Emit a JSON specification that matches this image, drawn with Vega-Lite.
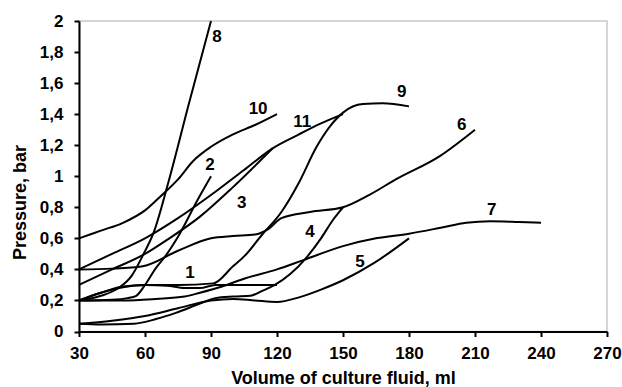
{
  "$schema": "https://vega.github.io/schema/vega-lite/v6.json",
  "width": 528,
  "height": 310.5,
  "autosize": {"type": "none"},
  "padding": {"left": 79, "top": 21, "right": 15, "bottom": 56},
  "config": {
    "view": {"stroke": "#c8c8c8", "strokeWidth": 1.5},
    "font": "Liberation Sans",
    "axis": {"labelOverlap": false, "labelBound": false},
    "locale": {
      "number": {"decimal": ",", "thousands": " ", "grouping": [3], "currency": ["", ""]}
    }
  },
  "datasets": {
    "curves": [
      {"curve": "1", "volume": 30, "pressure": 0.2},
      {"curve": "1", "volume": 40, "pressure": 0.25},
      {"curve": "1", "volume": 50, "pressure": 0.285},
      {"curve": "1", "volume": 60, "pressure": 0.3},
      {"curve": "1", "volume": 70, "pressure": 0.295},
      {"curve": "1", "volume": 78, "pressure": 0.28},
      {"curve": "1", "volume": 85, "pressure": 0.28},
      {"curve": "1", "volume": 92, "pressure": 0.3},
      {"curve": "1", "volume": 105, "pressure": 0.3},
      {"curve": "1", "volume": 120, "pressure": 0.3},

      {"curve": "2", "volume": 30, "pressure": 0.2},
      {"curve": "2", "volume": 45, "pressure": 0.205},
      {"curve": "2", "volume": 52, "pressure": 0.215},
      {"curve": "2", "volume": 56, "pressure": 0.23},
      {"curve": "2", "volume": 60, "pressure": 0.3},
      {"curve": "2", "volume": 65, "pressure": 0.41},
      {"curve": "2", "volume": 69.5, "pressure": 0.49},
      {"curve": "2", "volume": 75, "pressure": 0.61},
      {"curve": "2", "volume": 84, "pressure": 0.85},
      {"curve": "2", "volume": 90, "pressure": 1.0},

      {"curve": "3", "volume": 30, "pressure": 0.3},
      {"curve": "3", "volume": 45, "pressure": 0.4},
      {"curve": "3", "volume": 60, "pressure": 0.5},
      {"curve": "3", "volume": 70, "pressure": 0.59},
      {"curve": "3", "volume": 85, "pressure": 0.74},
      {"curve": "3", "volume": 100, "pressure": 0.93},
      {"curve": "3", "volume": 118, "pressure": 1.18},

      {"curve": "4", "volume": 30, "pressure": 0.05},
      {"curve": "4", "volume": 40, "pressure": 0.045},
      {"curve": "4", "volume": 55, "pressure": 0.05},
      {"curve": "4", "volume": 65, "pressure": 0.08},
      {"curve": "4", "volume": 74, "pressure": 0.12},
      {"curve": "4", "volume": 85, "pressure": 0.18},
      {"curve": "4", "volume": 92, "pressure": 0.215},
      {"curve": "4", "volume": 100, "pressure": 0.225},
      {"curve": "4", "volume": 108, "pressure": 0.23},
      {"curve": "4", "volume": 113, "pressure": 0.26},
      {"curve": "4", "volume": 119, "pressure": 0.3},
      {"curve": "4", "volume": 126, "pressure": 0.37},
      {"curve": "4", "volume": 133, "pressure": 0.47},
      {"curve": "4", "volume": 140, "pressure": 0.6},
      {"curve": "4", "volume": 145.5, "pressure": 0.72},
      {"curve": "4", "volume": 150, "pressure": 0.8},

      {"curve": "5", "volume": 30, "pressure": 0.05},
      {"curve": "5", "volume": 45, "pressure": 0.07},
      {"curve": "5", "volume": 60, "pressure": 0.1},
      {"curve": "5", "volume": 75, "pressure": 0.15},
      {"curve": "5", "volume": 90, "pressure": 0.2},
      {"curve": "5", "volume": 100, "pressure": 0.21},
      {"curve": "5", "volume": 110, "pressure": 0.2},
      {"curve": "5", "volume": 120, "pressure": 0.19},
      {"curve": "5", "volume": 130, "pressure": 0.22},
      {"curve": "5", "volume": 140, "pressure": 0.27},
      {"curve": "5", "volume": 150, "pressure": 0.33},
      {"curve": "5", "volume": 164, "pressure": 0.44},
      {"curve": "5", "volume": 180, "pressure": 0.6},

      {"curve": "6", "volume": 30, "pressure": 0.4},
      {"curve": "6", "volume": 45, "pressure": 0.405},
      {"curve": "6", "volume": 59, "pressure": 0.42},
      {"curve": "6", "volume": 75, "pressure": 0.52},
      {"curve": "6", "volume": 90, "pressure": 0.6},
      {"curve": "6", "volume": 100, "pressure": 0.615},
      {"curve": "6", "volume": 110, "pressure": 0.625},
      {"curve": "6", "volume": 116, "pressure": 0.66},
      {"curve": "6", "volume": 122, "pressure": 0.73},
      {"curve": "6", "volume": 135, "pressure": 0.77},
      {"curve": "6", "volume": 150, "pressure": 0.8},
      {"curve": "6", "volume": 162, "pressure": 0.88},
      {"curve": "6", "volume": 174, "pressure": 0.98},
      {"curve": "6", "volume": 194, "pressure": 1.13},
      {"curve": "6", "volume": 210, "pressure": 1.3},

      {"curve": "7", "volume": 30, "pressure": 0.2},
      {"curve": "7", "volume": 50, "pressure": 0.2},
      {"curve": "7", "volume": 65, "pressure": 0.21},
      {"curve": "7", "volume": 78, "pressure": 0.225},
      {"curve": "7", "volume": 85, "pressure": 0.25},
      {"curve": "7", "volume": 95, "pressure": 0.29},
      {"curve": "7", "volume": 105, "pressure": 0.34},
      {"curve": "7", "volume": 120, "pressure": 0.4},
      {"curve": "7", "volume": 132, "pressure": 0.46},
      {"curve": "7", "volume": 150, "pressure": 0.55},
      {"curve": "7", "volume": 165, "pressure": 0.6},
      {"curve": "7", "volume": 180, "pressure": 0.63},
      {"curve": "7", "volume": 195, "pressure": 0.67},
      {"curve": "7", "volume": 206, "pressure": 0.7},
      {"curve": "7", "volume": 217, "pressure": 0.71},
      {"curve": "7", "volume": 230, "pressure": 0.705},
      {"curve": "7", "volume": 240, "pressure": 0.7},

      {"curve": "8", "volume": 30, "pressure": 0.2},
      {"curve": "8", "volume": 40, "pressure": 0.23},
      {"curve": "8", "volume": 48, "pressure": 0.28},
      {"curve": "8", "volume": 54, "pressure": 0.36},
      {"curve": "8", "volume": 59, "pressure": 0.49},
      {"curve": "8", "volume": 64, "pressure": 0.64},
      {"curve": "8", "volume": 70.6, "pressure": 0.96},
      {"curve": "8", "volume": 80, "pressure": 1.47},
      {"curve": "8", "volume": 90, "pressure": 2.0},

      {"curve": "9", "volume": 30, "pressure": 0.2},
      {"curve": "9", "volume": 40, "pressure": 0.25},
      {"curve": "9", "volume": 50, "pressure": 0.29},
      {"curve": "9", "volume": 60, "pressure": 0.3},
      {"curve": "9", "volume": 75, "pressure": 0.3},
      {"curve": "9", "volume": 91, "pressure": 0.31},
      {"curve": "9", "volume": 100, "pressure": 0.42},
      {"curve": "9", "volume": 105.5, "pressure": 0.49},
      {"curve": "9", "volume": 113, "pressure": 0.62},
      {"curve": "9", "volume": 122, "pressure": 0.77},
      {"curve": "9", "volume": 130, "pressure": 0.96},
      {"curve": "9", "volume": 138, "pressure": 1.19},
      {"curve": "9", "volume": 144, "pressure": 1.32},
      {"curve": "9", "volume": 150, "pressure": 1.41},
      {"curve": "9", "volume": 159, "pressure": 1.465},
      {"curve": "9", "volume": 168, "pressure": 1.47},
      {"curve": "9", "volume": 180, "pressure": 1.45},

      {"curve": "10", "volume": 30, "pressure": 0.6},
      {"curve": "10", "volume": 40, "pressure": 0.65},
      {"curve": "10", "volume": 50, "pressure": 0.7},
      {"curve": "10", "volume": 60, "pressure": 0.78},
      {"curve": "10", "volume": 67, "pressure": 0.87},
      {"curve": "10", "volume": 75, "pressure": 0.98},
      {"curve": "10", "volume": 82, "pressure": 1.1},
      {"curve": "10", "volume": 90, "pressure": 1.19},
      {"curve": "10", "volume": 100, "pressure": 1.27},
      {"curve": "10", "volume": 110, "pressure": 1.33},
      {"curve": "10", "volume": 120, "pressure": 1.4},

      {"curve": "11", "volume": 30, "pressure": 0.4},
      {"curve": "11", "volume": 45, "pressure": 0.5},
      {"curve": "11", "volume": 60, "pressure": 0.6},
      {"curve": "11", "volume": 75, "pressure": 0.73},
      {"curve": "11", "volume": 92, "pressure": 0.9},
      {"curve": "11", "volume": 105, "pressure": 1.04},
      {"curve": "11", "volume": 118, "pressure": 1.18},
      {"curve": "11", "volume": 130, "pressure": 1.27},
      {"curve": "11", "volume": 140, "pressure": 1.34},
      {"curve": "11", "volume": 150, "pressure": 1.4}
    ],
    "labels": [
      {"curve": "1", "volume": 80.5, "pressure": 0.377},
      {"curve": "2", "volume": 89.5, "pressure": 1.07},
      {"curve": "3", "volume": 104, "pressure": 0.83},
      {"curve": "4", "volume": 135, "pressure": 0.64},
      {"curve": "5", "volume": 157.7, "pressure": 0.45},
      {"curve": "6", "volume": 204, "pressure": 1.33},
      {"curve": "7", "volume": 217.6, "pressure": 0.78},
      {"curve": "8", "volume": 92.7, "pressure": 1.9},
      {"curve": "9", "volume": 176.7, "pressure": 1.54},
      {"curve": "10", "volume": 111.4, "pressure": 1.43},
      {"curve": "11", "volume": 131.5, "pressure": 1.35}
    ]
  },
  "layer": [
    {
      "data": {"name": "curves"},
      "mark": {"type": "line", "interpolate": "monotone", "color": "black", "strokeWidth": 2},
      "encoding": {
        "x": {
          "field": "volume",
          "type": "quantitative",
          "scale": {"domain": [30, 270], "nice": false, "zero": false},
          "axis": {
            "values": [30, 60, 90, 120, 150, 180, 210, 240, 270],
            "grid": false,
            "domainColor": "black",
            "domainWidth": 2,
            "tickColor": "black",
            "tickWidth": 2,
            "tickSize": 5,
            "labelFont": "Liberation Sans",
            "labelFontSize": 17,
            "labelFontWeight": "bold",
            "labelColor": "black",
            "labelPadding": 9,
            "labelFlush": false,
            "labelOverlap": false,
            "title": "Volume of culture fluid, ml",
            "titleFont": "Liberation Sans",
            "titleFontSize": 18,
            "titleFontWeight": "bold",
            "titleColor": "black",
            "titleBaseline": "alphabetic",
            "titleY": 51.5
          }
        },
        "y": {
          "field": "pressure",
          "type": "quantitative",
          "scale": {"domain": [0, 2], "nice": false},
          "axis": {
            "values": [0, 0.2, 0.4, 0.6, 0.8, 1, 1.2, 1.4, 1.6, 1.8, 2],
            "tickCount": 11,
            "format": "~g",
            "grid": false,
            "domainColor": "black",
            "domainWidth": 2,
            "tickColor": "black",
            "tickWidth": 2,
            "tickSize": 5,
            "labelFont": "Liberation Sans",
            "labelFontSize": 17,
            "labelFontWeight": "bold",
            "labelColor": "black",
            "labelPadding": 11,
            "labelFlush": false,
            "labelOverlap": false,
            "title": "Pressure, bar",
            "titleFont": "Liberation Sans",
            "titleFontSize": 18,
            "titleFontWeight": "bold",
            "titleColor": "black",
            "titleBaseline": "alphabetic",
            "titleX": -54,
            "titleY": 181
          }
        },
        "detail": {"field": "curve", "type": "nominal"}
      }
    },
    {
      "data": {"name": "labels"},
      "mark": {"type": "text", "font": "Liberation Sans", "fontWeight": "bold", "fontSize": 17, "color": "black", "align": "center", "baseline": "middle"},
      "encoding": {
        "x": {"field": "volume", "type": "quantitative"},
        "y": {"field": "pressure", "type": "quantitative"},
        "text": {"field": "curve", "type": "nominal"}
      }
    }
  ]
}
